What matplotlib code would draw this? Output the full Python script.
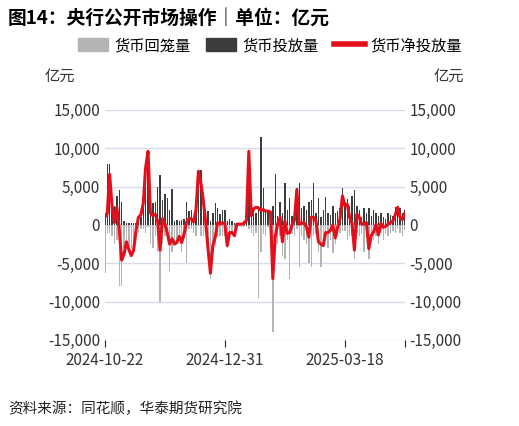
import numpy as np
import matplotlib.pyplot as plt
from matplotlib.patches import Patch
from matplotlib.lines import Line2D

plt.rcParams['font.family'] = ['Noto Sans CJK SC', 'DejaVu Sans']

tick_labels = ['2024-10-22', '2024-12-31', '2025-03-18']
tick_idx = [0, 50, 100]

net = [1000, 1500, 6600, 2500, 300, 2300, -500, -4600, -3800, -2200,
       -3200, -4000, -3300, -700, 1000, 1300, 2800, 7500, 9600, 1600,
       1200, 1400, 500, -3300, 800, 200, -1000, -2500, -1800, -2500,
       -2300, -1500, -2300, -1200, 300, 800, 800, 400, 2000, 7000,
       5500, 3300, 400, -3100, -6300, -2700, -1600, 300, 100, 300,
       200, -2700, -1000, -1000, -1400, 100, 100, 100, 200, 600,
       9600, 1200, 2100, 2300, 2200, 1900, 2000, 1800, 1800, 1700,
       -7000, -1500, 100, 1000, -2200, 500, -1100, -1000, 0, 600,
       4600, 100, 200, 300, -300, -1600, 1000, 1000, 500, -2200,
       -2500, -2700, -1000, -1000, -700, 0, -1700, -300, 800, 3800,
       2500, 2700, 1000, 200, -3300, 1400, 1000, 100, 100, 300,
       -3100, -1400, -900, 100, -1300, 200, -300, -200, 100, 300,
       500, 1300, 2300, 1000, 700, 1500]

inject = [1500, 8000, 8000, 3000, 2500, 3800, 4500, 3000, 500, 200,
          200, 200, 200, 200, 300, 1000, 2500, 5000, 9800, 2000,
          2800, 3000, 5000, 6500, 3200, 4000, 3500, 2000, 4700, 500,
          600, 500, 700, 800, 3000, 1800, 2000, 500, 3000, 7000,
          7200, 3500, 1500, 1800, 500, 1600, 2800, 2200, 1400, 1900,
          2000, 500, 800, 500, 300, 200, 200, 300, 500, 3000,
          9600, 2500, 2000, 1500, 2500, 11500, 4800, 2000, 1700, 800,
          2500, 6600, 1200, 3000, 1500, 5500, 2000, 3500, 1200, 2000,
          4800, 5500, 2200, 2500, 2000, 3000, 3200, 5500, 1500, 3500,
          1000, 2000, 3700, 1500, 1300, 2500, 1500, 1800, 2200, 4800,
          3000, 3400, 2500, 3800, 4600, 2500, 2000, 1000, 2200, 1500,
          2200, 1200, 2000, 1500, 1200, 1600, 1000, 800, 1500, 1300,
          1200, 2300, 2500, 2200, 1500, 2000]

withdraw = [-6300, -1000, -1000, -1500, -2500, -2000, -8000, -8000, -3000, -2000,
            -2800, -3000, -2500, -1500, -1000, -500, -500, -1000, -300, -2500,
            -3000, -1500, -3500, -10000, -2500, -1500, -2000, -6000, -3500, -2500,
            -2500, -2000, -3500, -1800, -5000, -500, -500, -1000, -1500, -200,
            -1500, -1500, -1000, -3500, -7000, -3500, -2800, -1500, -1500, -1500,
            -1500, -3000, -1500, -1200, -1500, -200, -200, -300, -300, -300,
            -500, -1000, -1500, -1000, -9500, -3500, -1200, -1500, -300, -200,
            -14000, -1000, -2500, -1500, -4000, -4500, -2000, -7000, -1200, -1500,
            -500, -5500, -1500, -2000, -2500, -5000, -5500, -1500, -1200, -3500,
            -5500, -2500, -1500, -3000, -2000, -3600, -2500, -1500, -1000, -800,
            -800, -2000, -1500, -1500, -4500, -1000, -1500, -1200, -3500, -1500,
            -4500, -2000, -2000, -1500, -2500, -1000, -2000, -1200, -1500, -1000,
            -800, -1000, -500, -1000, -1500, -700]

x = np.arange(len(net))
c_out, c_in, c_net = '#b4b4b4', '#3c3c3c', '#e3101b'

fig = plt.figure(figsize=(5.19, 4.26), dpi=100)
ax = fig.add_axes([0.202, 0.202, 0.578, 0.54])
ax.bar(x, withdraw, width=0.6, color=c_out, zorder=2)
ax.bar(x, inject, width=0.6, color=c_in, zorder=2)
ax.plot(x, net, color=c_net, lw=2.2, zorder=3)

ax.set_xlim(0, 125)
ax.set_ylim(-15000, 15000)
yt = np.arange(-15000, 15001, 5000)
ax.set_yticks(yt)
ax.set_yticklabels([f'{v:,}' for v in yt])
ax.grid(axis='y', color='#d5dcea', lw=1, zorder=0)
for s in ax.spines.values():
    s.set_visible(False)
ax.tick_params(axis='y', length=0, labelsize=11, colors='#333333')
ax.set_xticks(tick_idx + [125])
ax.set_xticklabels(tick_labels + [''], fontsize=11, color='#333333')
ax.tick_params(axis='x', length=5, direction='out', color='#222222')

ax2 = ax.twinx()
ax2.set_ylim(-15000, 15000)
ax2.set_yticks(yt)
ax2.set_yticklabels([f'{v:,}' for v in yt])
ax2.tick_params(axis='y', length=0, labelsize=11, colors='#333333')
for s in ax2.spines.values():
    s.set_visible(False)

fig.text(0.015, 0.955, '图14：央行公开市场操作｜单位：亿元', fontsize=13.5,
         fontweight='bold', va='center')
fig.text(0.085, 0.82, '亿元', fontsize=11, color='#333333', va='center')
fig.text(0.835, 0.82, '亿元', fontsize=11, color='#333333', va='center')
handles = [Patch(color=c_out), Patch(color=c_in), Line2D([], [], color=c_net, lw=4)]
fig.legend(handles, ['货币回笼量', '货币投放量', '货币净投放量'], loc='center',
           bbox_to_anchor=(0.52, 0.893), ncol=3, frameon=False, fontsize=11,
           handlelength=2.0, handleheight=0.9, handletextpad=0.4, columnspacing=1.0)
fig.text(0.015, 0.04, '资料来源：同花顺，华泰期货研究院', fontsize=10.5,
         color='#222222', va='center')

fig.savefig('out.png', dpi=100)
